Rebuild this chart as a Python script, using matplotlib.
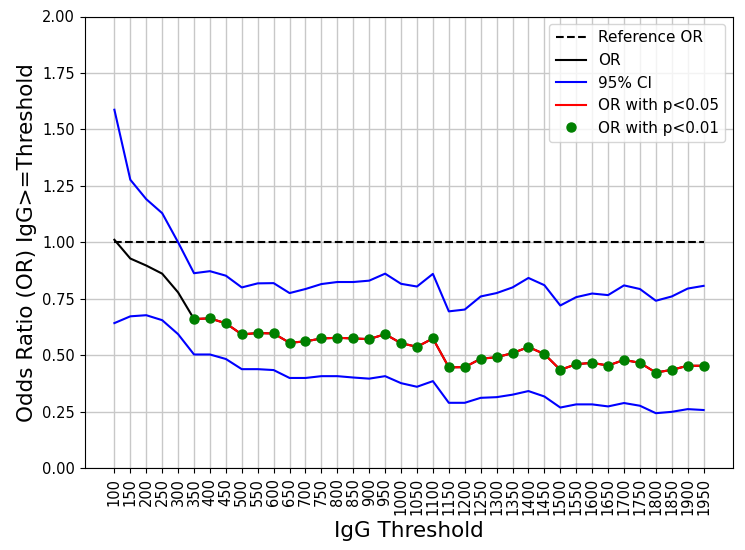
import numpy as np
import matplotlib
matplotlib.use('Agg')
import matplotlib.pyplot as plt

# --- datos ---
thresholds = list(range(100, 2000, 50))

odds_ratio = [1.011, 0.928, 0.897, 0.861, 0.778, 0.660, 0.663, 0.641, 0.592, 0.598,
              0.596, 0.555, 0.561, 0.574, 0.577, 0.574, 0.571, 0.593, 0.553, 0.537,
              0.574, 0.446, 0.447, 0.484, 0.491, 0.509, 0.536, 0.505, 0.435, 0.460,
              0.466, 0.454, 0.479, 0.466, 0.423, 0.435, 0.453, 0.453]

ci_upper = [1.587, 1.277, 1.191, 1.129, 1.000, 0.863, 0.872, 0.852, 0.800, 0.818,
            0.819, 0.775, 0.793, 0.815, 0.824, 0.824, 0.830, 0.861, 0.816, 0.804,
            0.860, 0.694, 0.702, 0.760, 0.775, 0.800, 0.842, 0.810, 0.720, 0.757,
            0.773, 0.766, 0.809, 0.793, 0.741, 0.760, 0.795, 0.807]

ci_lower = [0.642, 0.672, 0.677, 0.655, 0.593, 0.503, 0.503, 0.483, 0.438, 0.438,
            0.434, 0.399, 0.399, 0.407, 0.407, 0.401, 0.396, 0.407, 0.376, 0.360,
            0.385, 0.289, 0.289, 0.311, 0.314, 0.325, 0.341, 0.317, 0.268, 0.282,
            0.282, 0.273, 0.288, 0.276, 0.243, 0.249, 0.261, 0.257]

# umbrales significativos (p<0.05 y p<0.01)
sig_05 = thresholds[5:]
sig_01 = thresholds[5:]

# --- grafico ---
fig, ax = plt.subplots(figsize=(7.45, 5.5), dpi=100)
fig.subplots_adjust(left=0.114, right=0.984, top=0.970, bottom=0.149)

or_map = dict(zip(thresholds, odds_ratio))

ax.plot(thresholds, [1.0] * len(thresholds), 'k--', linewidth=1.5, label='Reference OR')
ax.plot(thresholds, odds_ratio, color='black', linewidth=1.5, label='OR')
ax.plot(thresholds, ci_upper, color='blue', linewidth=1.5, label='95% CI')
ax.plot(thresholds, ci_lower, color='blue', linewidth=1.5)
ax.plot(sig_05, [or_map[t] for t in sig_05], color='red', linewidth=1.5, label='OR with p<0.05')
ax.plot(sig_01, [or_map[t] for t in sig_01], 'o', color='green', markersize=6.5,
        linestyle='none', label='OR with p<0.01')

ax.set_ylim(0, 2.0)
ax.set_xticks(thresholds)
ax.set_xticklabels([str(t) for t in thresholds], rotation=90, fontsize=10.5)
ax.tick_params(axis='y', labelsize=10.5)
ax.set_xlabel('IgG Threshold', fontsize=15.5)
ax.set_ylabel('Odds Ratio (OR) IgG>=Threshold', fontsize=15.5)
ax.grid(True, color='#c8c8c8', linewidth=1)
ax.set_axisbelow(True)
ax.legend(loc='upper right', fontsize=11)

plt.savefig('out.png', dpi=100)
plt.close()
